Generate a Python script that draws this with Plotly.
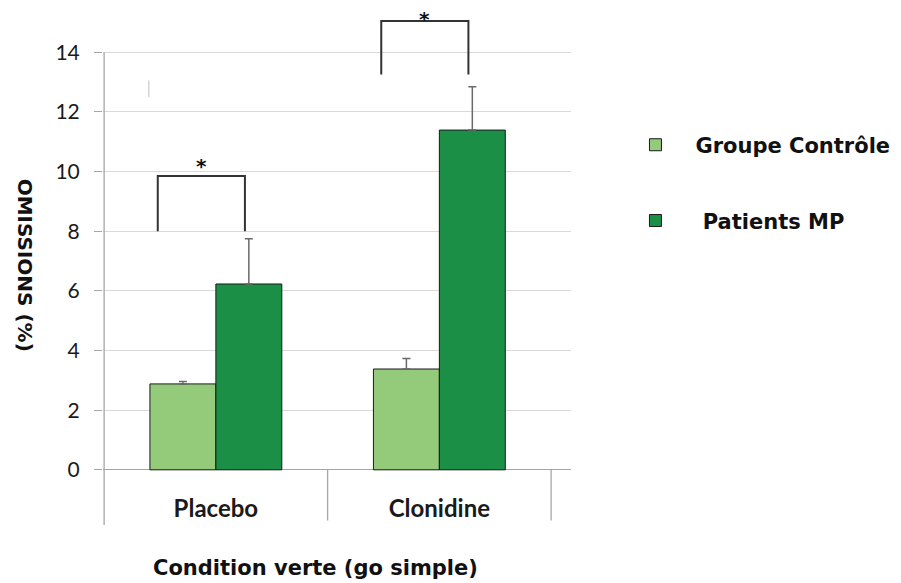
import plotly.graph_objects as go

# ---- data ----
categories = ["Placebo", "Clonidine"]
controle = [2.88, 3.38]
patients = [6.23, 11.39]
controle_err = [0.08, 0.35]
patients_err = [1.52, 1.45]
y_ticks = [0, 2, 4, 6, 8, 10, 12, 14]
series_names = ["Groupe Contrôle", " Patients MP"]
sig_labels = ["*", "*"]
bracket_low = [8.0, 13.25]
bracket_high = [9.85, 15.05]
star_y = [10.18, 15.1]

LIGHT = "#93CB7B"
DARK = "#1A8F45"
AXIS_GRAY = "#a6a6a6"
GRID = "#d9d9d9"

fig = go.Figure()
fig.add_trace(go.Bar(
    x=categories, y=controle, name=series_names[0], legend="legend",
    marker=dict(color=LIGHT, line=dict(color="#1a1a1a", width=1)),
    error_y=dict(type="data", symmetric=False, array=controle_err,
                 arrayminus=[0] * len(controle_err), color="#6a6a6a",
                 thickness=1.5, width=4),
))
fig.add_trace(go.Bar(
    x=categories, y=patients, name=series_names[1], legend="legend2",
    marker=dict(color=DARK, line=dict(color="#1a1a1a", width=1)),
    error_y=dict(type="data", symmetric=False, array=patients_err,
                 arrayminus=[0] * len(patients_err), color="#6a6a6a",
                 thickness=1.5, width=4),
))

shapes = []
# y axis line and category separators (Excel style)
shapes.append(dict(type="line", xref="x", yref="y", x0=-0.5, x1=-0.5, y0=-1.85, y1=14,
                   line=dict(color=AXIS_GRAY, width=1.3)))
for i in range(len(categories)):
    xs = i + 0.5
    shapes.append(dict(type="line", xref="x", yref="y", x0=xs, x1=xs, y0=-1.7, y1=0,
                       line=dict(color=AXIS_GRAY, width=1.3)))
# stray mark
shapes.append(dict(type="line", xref="x", yref="y", x0=-0.3, x1=-0.3, y0=12.5, y1=13.05,
                   line=dict(color="#c8c8c8", width=1.2)))

annotations = []
for i in range(len(categories)):
    xl, xr = i - 0.26, i + 0.13
    shapes.append(dict(type="path", xref="x", yref="y",
                       path=f"M {xl},{bracket_low[i]} L {xl},{bracket_high[i]} L {xr},{bracket_high[i]} L {xr},{bracket_low[i]}",
                       line=dict(color="#333333", width=2)))
    annotations.append(dict(x=(xl + xr) / 2, y=star_y[i], xref="x", yref="y",
                            text=sig_labels[i], showarrow=False, yanchor="middle",
                            font=dict(family="DejaVu Sans", size=20, color="#111", weight="bold")))

annotations.append(dict(x=-0.166, y=0.501, xref="paper", yref="paper",
                        text="OMISSIONS (%)", textangle=90, showarrow=False,
                        xanchor="center", yanchor="middle",
                        font=dict(family="DejaVu Sans", size=20, color="#111", weight="bold")))
annotations.append(dict(x=0.453, y=-0.083, xref="paper", yref="paper",
                        text="Condition verte (go simple)", showarrow=False,
                        xanchor="center", yanchor="middle",
                        font=dict(family="DejaVu Sans", size=21, color="#111", weight="bold")))

legend_font = dict(family="DejaVu Sans", size=21, color="#111", weight="bold")
fig.update_layout(
    width=901, height=583,
    margin=dict(l=103, r=328, t=6, b=58),
    paper_bgcolor="white", plot_bgcolor="white",
    barmode="group", bargap=0.41, bargroupgap=0,
    showlegend=True,
    legend=dict(x=1.095, y=0.732, xanchor="left", yanchor="middle",
                font=legend_font, itemwidth=70, bgcolor="rgba(0,0,0,0)"),
    legend2=dict(x=1.095, y=0.586, xanchor="left", yanchor="middle",
                 font=legend_font, itemwidth=70, bgcolor="rgba(0,0,0,0)"),
    xaxis=dict(range=[-0.505, 1.589], showgrid=False, showline=False, zeroline=False,
               ticks="", ticklabelposition="inside",
               tickfont=dict(family="Lato", size=24, color="#1a1a1a", weight="bold")),
    yaxis=dict(range=[-1.85, 15.55], tickvals=y_ticks, showgrid=True, gridcolor=GRID,
               gridwidth=1, zeroline=True, zerolinecolor=AXIS_GRAY, zerolinewidth=1.3,
               showline=False, ticks="outside", ticklen=8, tickcolor=AXIS_GRAY,
               ticklabelstandoff=10,
               tickfont=dict(family="Lato", size=21, color="#1a1a1a")),
    shapes=shapes, annotations=annotations,
)

fig.write_html("out.html", config={"displayModeBar": False},
               post_script="document.body.style.margin='0';")
